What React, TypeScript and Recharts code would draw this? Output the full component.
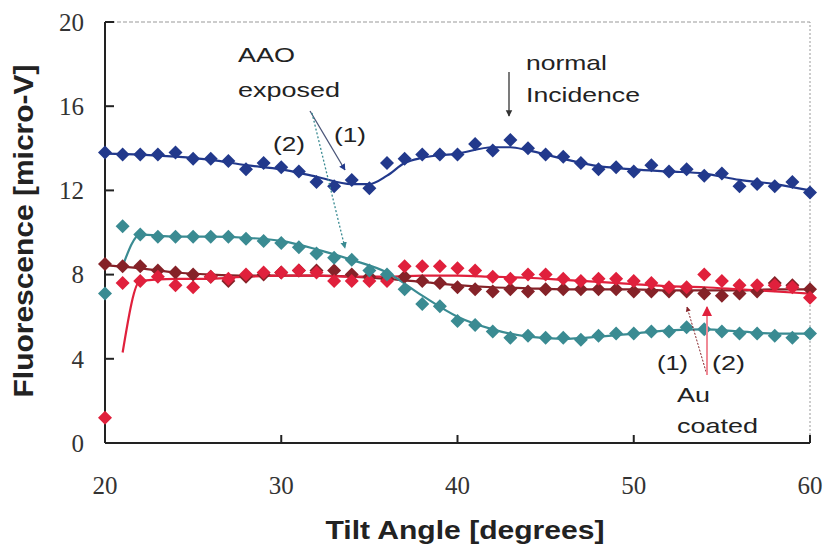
import { ComposedChart, Line, ReferenceLine, XAxis, YAxis } from "recharts";

const angles = [
  20, 21, 22, 23, 24, 25, 26, 27, 28, 29, 30, 31, 32, 33, 34, 35, 36, 37, 38, 39, 40,
  41, 42, 43, 44, 45, 46, 47, 48, 49, 50, 51, 52, 53, 54, 55, 56, 57, 58, 59, 60,
];

// AAO exposed (1)
const aaoExposed1 = [
  13.8, 13.7, 13.7, 13.7, 13.8, 13.5, 13.5, 13.4, 13.0, 13.3, 13.1, 12.9, 12.4, 12.2, 12.5, 12.1,
  13.3, 13.5, 13.7, 13.7, 13.7, 14.2, 13.9, 14.4, 14.0, 13.7, 13.6, 13.3, 13.0, 13.1, 12.9, 13.2,
  12.9, 13.0, 12.7, 12.8, 12.2, 12.3, 12.2, 12.4, 11.9,
];
// AAO exposed (2)
const aaoExposed2 = [
  7.1, 10.3, 9.9, 9.8, 9.8, 9.8, 9.8, 9.8, 9.7, 9.6, 9.5, 9.3, 9.0, 8.8, 8.7, 8.2, 8.0, 7.3, 6.6,
  6.5, 5.8, 5.6, 5.3, 5.0, 5.1, 5.0, 5.0, 4.9, 5.1, 5.2, 5.2, 5.3, 5.3, 5.5, 5.4, 5.3, 5.2, 5.2,
  5.1, 5.0, 5.2,
];
// Au coated (1)
const auCoated1 = [
  8.5, 8.4, 8.4, 8.2, 8.1, 8.0, 7.9, 7.7, 7.9, 8.0, 8.1, 8.2, 8.2, 8.2, 8.0, 7.9, 7.8, 7.9, 7.7,
  7.6, 7.4, 7.3, 7.2, 7.3, 7.2, 7.3, 7.3, 7.3, 7.3, 7.3, 7.2, 7.2, 7.2, 7.2, 7.1, 7.0, 7.1, 7.2,
  7.6, 7.5, 7.3,
];
// Au coated (2)
const auCoated2 = [
  1.2, 7.6, 7.7, 7.9, 7.5, 7.4, 7.9, 7.8, 8.0, 8.1, 8.1, 8.2, 8.1, 7.7, 7.7, 7.7, 7.7, 8.4, 8.4,
  8.4, 8.3, 8.2, 7.9, 7.8, 8.0, 8.0, 7.8, 7.7, 7.8, 7.8, 7.7, 7.6, 7.4, 7.4, 8.0, 7.7, 7.5, 7.5,
  7.5, 7.4, 6.9,
];

// smooth trend curves drawn through each set
const fitAngles1 = [20, 22, 24, 26, 28, 30, 32, 34, 35, 36, 37, 38, 40, 42, 43, 44, 46, 48, 50, 52, 54, 56, 58, 60];
const fitExposed1 = [13.75, 13.7, 13.6, 13.45, 13.2, 13.0, 12.65, 12.3, 12.3, 12.7, 13.3, 13.55, 13.75, 14.05, 14.05, 13.9, 13.5, 13.15, 13.0, 12.9, 12.8, 12.5, 12.3, 12.0];
const fitAngles2 = [21, 22, 24, 26, 28, 30, 32, 34, 36, 38, 40, 42, 44, 46, 48, 50, 52, 54, 56, 58, 60];
const fitExposed2 = [8.4, 9.9, 9.8, 9.8, 9.75, 9.6, 9.2, 8.7, 8.1, 7.0, 6.0, 5.4, 5.05, 4.95, 5.05, 5.2, 5.35, 5.4, 5.3, 5.2, 5.2];
const fitAnglesAu1 = [20, 22, 24, 26, 28, 30, 32, 34, 36, 38, 40, 42, 44, 46, 48, 50, 52, 54, 56, 58, 60];
const fitCoated1 = [8.45, 8.3, 8.1, 8.0, 7.95, 7.95, 7.95, 7.9, 7.8, 7.65, 7.5, 7.4, 7.35, 7.3, 7.3, 7.3, 7.25, 7.25, 7.25, 7.3, 7.3];
const fitAnglesAu2 = [21, 22, 24, 26, 28, 30, 32, 34, 36, 38, 40, 42, 44, 46, 48, 50, 52, 54, 56, 58, 60];
const fitCoated2 = [4.3, 7.7, 7.8, 7.8, 7.9, 7.95, 7.95, 7.9, 7.9, 7.95, 7.95, 7.9, 7.85, 7.75, 7.65, 7.55, 7.45, 7.4, 7.3, 7.2, 7.1];

const xTicks = [20, 30, 40, 50, 60];
const yTicks = [0, 4, 8, 12, 16, 20];

const BLUE = "#22398c";
const TEAL = "#3a8b92";
const DARK_RED = "#852228";
const RED = "#e0203c";

const SANS = "'Liberation Sans', Arial, sans-serif";
const SERIF = "'Liberation Serif', 'Times New Roman', serif";

const toPoints = (xs: number[], ys: number[]) => xs.map((angle, i) => ({ angle, value: ys[i] }));

const diamond = (color: string) => (props: any) => {
  const { cx, cy, index } = props;
  if (cx == null || cy == null) return <g key={`d-${index}`} />;
  const r = 7;
  return (
    <polygon
      key={`d-${index}`}
      points={`${cx},${cy - r} ${cx + r},${cy} ${cx},${cy + r} ${cx - r},${cy}`}
      fill={color}
    />
  );
};

const series = [
  { name: "Au coated (1)", color: DARK_RED, values: auCoated1, fx: fitAnglesAu1, fy: fitCoated1 },
  { name: "Au coated (2)", color: RED, values: auCoated2, fx: fitAnglesAu2, fy: fitCoated2 },
  { name: "AAO exposed (2)", color: TEAL, values: aaoExposed2, fx: fitAngles2, fy: fitExposed2 },
  { name: "AAO exposed (1)", color: BLUE, values: aaoExposed1, fx: fitAngles1, fy: fitExposed1 },
];

function Annotations() {
  const txt = { fontFamily: SANS, fontSize: 21, fill: "#222" };
  return (
    <svg
      width={828}
      height={552}
      style={{ position: "absolute", left: 0, top: 0, pointerEvents: "none" }}
    >
      <defs>
        {[
          ["ah-gray", "#333"],
          ["ah-blue", BLUE],
          ["ah-teal", TEAL],
          ["ah-dred", DARK_RED],
          ["ah-red", RED],
        ].map(([id, c]) => (
          <marker key={id} id={id} viewBox="0 0 10 10" refX="9" refY="5" markerWidth="5" markerHeight="6" orient="auto">
            <path d="M0,0 L10,5 L0,10 z" fill={c} />
          </marker>
        ))}
      </defs>

      <text x={238} y={62} textLength={57} lengthAdjust="spacingAndGlyphs" {...txt}>AAO</text>
      <text x={238} y={97} textLength={102} lengthAdjust="spacingAndGlyphs" {...txt}>exposed</text>
      <text x={273} y={151} textLength={32} lengthAdjust="spacingAndGlyphs" {...txt}>(2)</text>
      <text x={334} y={142} textLength={32} lengthAdjust="spacingAndGlyphs" {...txt}>(1)</text>
      <line x1={310} y1={111} x2={345} y2={170} stroke="#4a5578" strokeWidth={1.3} markerEnd="url(#ah-blue)" />
      <line x1={312} y1={113} x2={345} y2={248} stroke={TEAL} strokeWidth={1.3} strokeDasharray="2 2" markerEnd="url(#ah-teal)" />

      <text x={526} y={70} textLength={81} lengthAdjust="spacingAndGlyphs" {...txt}>normal</text>
      <text x={526} y={102} textLength={114} lengthAdjust="spacingAndGlyphs" {...txt}>Incidence</text>
      <line x1={509} y1={72} x2={509} y2={116} stroke="#333" strokeWidth={1.3} markerEnd="url(#ah-gray)" />

      <text x={657} y={370} textLength={31} lengthAdjust="spacingAndGlyphs" {...txt}>(1)</text>
      <text x={712} y={370} textLength={33} lengthAdjust="spacingAndGlyphs" {...txt}>(2)</text>
      <text x={677} y={402} textLength={33} lengthAdjust="spacingAndGlyphs" {...txt}>Au</text>
      <text x={677} y={433} textLength={81} lengthAdjust="spacingAndGlyphs" {...txt}>coated</text>
      <line x1={707} y1={375} x2={687} y2={307} stroke={DARK_RED} strokeWidth={1} strokeDasharray="2 1.5" markerEnd="url(#ah-dred)" />
      <line x1={707} y1={375} x2={707} y2={307} stroke="#f08a96" strokeWidth={2} markerEnd="url(#ah-red)" />

      <text
        x={0}
        y={0}
        transform="translate(33,231) rotate(-90)"
        textAnchor="middle"
        textLength={333}
        lengthAdjust="spacingAndGlyphs"
        fontFamily={SANS}
        fontWeight="bold"
        fontSize={27}
        fill="#222"
      >
        Fluorescence [micro-V]
      </text>
      <text
        x={465}
        y={539}
        textAnchor="middle"
        textLength={279}
        lengthAdjust="spacingAndGlyphs"
        fontFamily={SANS}
        fontWeight="bold"
        fontSize={26}
        fill="#222"
      >
        Tilt Angle [degrees]
      </text>
    </svg>
  );
}

export default function App() {
  return (
    <div style={{ position: "absolute", left: 0, top: 0, width: 828, height: 552, background: "#fff" }}>
      <ComposedChart width={828} height={552} margin={{ top: 22, right: 18, bottom: 49, left: 45 }}>
        <XAxis
          dataKey="angle"
          type="number"
          domain={[20, 60]}
          ticks={xTicks}
          allowDuplicatedCategory={false}
          height={60}
          tickSize={-8}
          tickMargin={41}
          stroke="#222"
          axisLine={{ stroke: "#222", strokeWidth: 2 }}
          tickLine={{ stroke: "#222", strokeWidth: 2 }}
          tick={{ fontFamily: SERIF, fontSize: 25, fill: "#333" }}
        />
        <YAxis
          type="number"
          domain={[0, 20]}
          ticks={yTicks}
          width={60}
          tickSize={-9}
          tickMargin={30}
          axisLine={{ stroke: "#222", strokeWidth: 2 }}
          tickLine={{ stroke: "#222", strokeWidth: 2 }}
          tick={{ fontFamily: SERIF, fontSize: 25, fill: "#333" }}
        />
        <ReferenceLine y={20} stroke="#999" strokeDasharray="4 2" />
        <ReferenceLine x={60} stroke="#999" strokeDasharray="2 2" />

        {series.map((s) => (
          <Line
            key={`fit-${s.name}`}
            data={toPoints(s.fx, s.fy)}
            dataKey="value"
            type="monotone"
            stroke={s.color}
            strokeWidth={2.2}
            dot={false}
            activeDot={false}
            isAnimationActive={false}
          />
        ))}
        {series.map((s) => (
          <Line
            key={`pts-${s.name}`}
            name={s.name}
            data={toPoints(angles, s.values)}
            dataKey="value"
            stroke="none"
            dot={diamond(s.color)}
            activeDot={false}
            isAnimationActive={false}
          />
        ))}
      </ComposedChart>
      <Annotations />
    </div>
  );
}
